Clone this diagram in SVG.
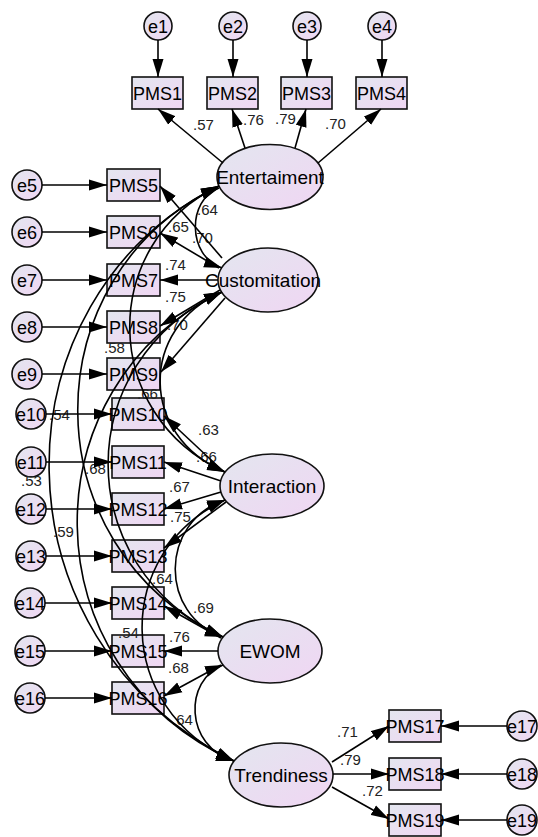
<svg xmlns="http://www.w3.org/2000/svg" width="538" height="837" viewBox="0 0 538 837">
<defs>
  <linearGradient id="fillGrad" x1="0" y1="0" x2="1" y2="1">
    <stop offset="0" stop-color="#e3e6ef"/>
    <stop offset="1" stop-color="#f0d6f3"/>
  </linearGradient>
  <marker id="head" viewBox="0 0 18 12" markerUnits="userSpaceOnUse" markerWidth="18" markerHeight="12" refX="18" refY="6" orient="auto-start-reverse">
    <path d="M0,0.5 L18,6 L0,11.5 z" fill="#000"/>
  </marker>
  <style>
    .box, .lat, .err { fill: url(#fillGrad); stroke: #111; stroke-width: 1.6; }
    .t { font-family: "Liberation Sans", Arial, sans-serif; fill: #000; text-anchor: middle; font-size: 18px; }
    .tl { font-family: "Liberation Sans", Arial, sans-serif; fill: #000; text-anchor: middle; font-size: 19px; }
    .w { font-family: "Liberation Sans", Arial, sans-serif; font-size: 15px; fill: #222; }
    .c { fill: none; stroke: #000; stroke-width: 1.6; }
    .one { marker-end: url(#head); }
    .two { marker-start: url(#head); marker-end: url(#head); }
  </style>
</defs>

<rect width="538" height="837" fill="#fff"/>

<!-- error terms -->
<g id="e1"><circle class="err" cx="158" cy="26" r="14"/><text class="t" x="158" y="32.5">e1</text></g>
<g id="e2"><circle class="err" cx="233" cy="26" r="14"/><text class="t" x="233" y="32.5">e2</text></g>
<g id="e3"><circle class="err" cx="307" cy="26" r="14"/><text class="t" x="307" y="32.5">e3</text></g>
<g id="e4"><circle class="err" cx="382" cy="26" r="14"/><text class="t" x="382" y="32.5">e4</text></g>
<g id="e5"><circle class="err" cx="27" cy="185" r="15"/><text class="t" x="27" y="191.5">e5</text></g>
<g id="e6"><circle class="err" cx="27" cy="232" r="15"/><text class="t" x="27" y="238.5">e6</text></g>
<g id="e7"><circle class="err" cx="27" cy="280" r="15"/><text class="t" x="27" y="286.5">e7</text></g>
<g id="e8"><circle class="err" cx="27" cy="327" r="15"/><text class="t" x="27" y="333.5">e8</text></g>
<g id="e9"><circle class="err" cx="27" cy="374" r="15"/><text class="t" x="27" y="380.5">e9</text></g>
<g id="e10"><circle class="err" cx="31" cy="414" r="15"/><text class="t" x="31" y="420.5">e10</text></g>
<g id="e11"><circle class="err" cx="31" cy="462" r="15"/><text class="t" x="31" y="468.5">e11</text></g>
<g id="e12"><circle class="err" cx="31" cy="509" r="15"/><text class="t" x="31" y="515.5">e12</text></g>
<g id="e13"><circle class="err" cx="31" cy="556" r="15"/><text class="t" x="31" y="562.5">e13</text></g>
<g id="e14"><circle class="err" cx="30" cy="603" r="15"/><text class="t" x="30" y="609.5">e14</text></g>
<g id="e15"><circle class="err" cx="30" cy="651" r="15"/><text class="t" x="30" y="657.5">e15</text></g>
<g id="e16"><circle class="err" cx="30" cy="698" r="15"/><text class="t" x="30" y="704.5">e16</text></g>
<g id="e17"><circle class="err" cx="522" cy="726" r="15"/><text class="t" x="522" y="732.5">e17</text></g>
<g id="e18"><circle class="err" cx="522" cy="774" r="15"/><text class="t" x="522" y="780.5">e18</text></g>
<g id="e19"><circle class="err" cx="522" cy="820" r="15"/><text class="t" x="522" y="826.5">e19</text></g>

<!-- observed indicators -->
<g id="PMS1"><rect class="box" x="132" y="77" width="51" height="32"/><text class="t" x="157.5" y="99.5">PMS1</text></g>
<g id="PMS2"><rect class="box" x="207" y="77" width="51" height="32"/><text class="t" x="232.5" y="99.5">PMS2</text></g>
<g id="PMS3"><rect class="box" x="281" y="77" width="51" height="32"/><text class="t" x="306.5" y="99.5">PMS3</text></g>
<g id="PMS4"><rect class="box" x="356" y="77" width="51" height="32"/><text class="t" x="381.5" y="99.5">PMS4</text></g>
<g id="PMS5"><rect class="box" x="107" y="169" width="53" height="32"/><text class="t" x="133.5" y="191.5">PMS5</text></g>
<g id="PMS6"><rect class="box" x="107" y="216" width="53" height="32"/><text class="t" x="133.5" y="238.5">PMS6</text></g>
<g id="PMS7"><rect class="box" x="107" y="264" width="53" height="32"/><text class="t" x="133.5" y="286.5">PMS7</text></g>
<g id="PMS8"><rect class="box" x="107" y="311" width="53" height="32"/><text class="t" x="133.5" y="333.5">PMS8</text></g>
<g id="PMS9"><rect class="box" x="107" y="358" width="53" height="32"/><text class="t" x="133.5" y="380.5">PMS9</text></g>
<g id="PMS10"><rect class="box" x="112" y="398" width="52" height="32"/><text class="t" x="138" y="420.5">PMS10</text></g>
<g id="PMS11"><rect class="box" x="112" y="446" width="52" height="32"/><text class="t" x="138" y="468.5">PMS11</text></g>
<g id="PMS12"><rect class="box" x="112" y="493" width="52" height="32"/><text class="t" x="138" y="515.5">PMS12</text></g>
<g id="PMS13"><rect class="box" x="112" y="540" width="52" height="32"/><text class="t" x="138" y="562.5">PMS13</text></g>
<g id="PMS14"><rect class="box" x="112" y="587" width="52" height="32"/><text class="t" x="138" y="609.5">PMS14</text></g>
<g id="PMS15"><rect class="box" x="112" y="635" width="52" height="32"/><text class="t" x="138" y="657.5">PMS15</text></g>
<g id="PMS16"><rect class="box" x="112" y="682" width="52" height="32"/><text class="t" x="138" y="704.5">PMS16</text></g>
<g id="PMS17"><rect class="box" x="389" y="710" width="52" height="32"/><text class="t" x="415" y="732.5">PMS17</text></g>
<g id="PMS18"><rect class="box" x="389" y="758" width="52" height="32"/><text class="t" x="415" y="780.5">PMS18</text></g>
<g id="PMS19"><rect class="box" x="389" y="804" width="52" height="32"/><text class="t" x="415" y="826.5">PMS19</text></g>

<!-- latent factors -->
<g id="Entertaiment"><ellipse class="lat" cx="270" cy="177" rx="53" ry="32.5"/><text class="tl" x="270" y="184">Entertaiment</text></g>
<g id="Customitation"><ellipse class="lat" cx="268" cy="280" rx="50" ry="32"/><text class="tl" x="263" y="287">Customitation</text></g>
<g id="Interaction"><ellipse class="lat" cx="272" cy="486" rx="52" ry="32"/><text class="tl" x="272" y="493">Interaction</text></g>
<g id="EWOM"><ellipse class="lat" cx="270" cy="651" rx="52" ry="32"/><text class="tl" x="270" y="658">EWOM</text></g>
<g id="Trendiness"><ellipse class="lat" cx="281" cy="775" rx="52" ry="32"/><text class="tl" x="281" y="782">Trendiness</text></g>

<!-- estimates -->
<g id="estimates">
  <text class="w" x="193" y="130">.57</text>
  <text class="w" x="243" y="125">.76</text>
  <text class="w" x="275" y="124">.79</text>
  <text class="w" x="325" y="129">.70</text>
  <text class="w" x="197" y="215">.64</text>
  <text class="w" x="168" y="232">.65</text>
  <text class="w" x="192" y="243">.70</text>
  <text class="w" x="165" y="270">.74</text>
  <text class="w" x="165" y="302">.75</text>
  <text class="w" x="167" y="330">.70</text>
  <text class="w" x="104" y="353">.58</text>
  <text class="w" x="137" y="399">.66</text>
  <text class="w" x="49" y="420">.54</text>
  <text class="w" x="21" y="486">.53</text>
  <text class="w" x="85" y="474">.68</text>
  <text class="w" x="53" y="537">.59</text>
  <text class="w" x="118" y="638">.54</text>
  <text class="w" x="152" y="584">.64</text>
  <text class="w" x="198" y="435">.63</text>
  <text class="w" x="196" y="462">.66</text>
  <text class="w" x="169" y="492">.67</text>
  <text class="w" x="170" y="522">.75</text>
  <text class="w" x="193" y="613">.69</text>
  <text class="w" x="169" y="642">.76</text>
  <text class="w" x="168" y="673">.68</text>
  <text class="w" x="172" y="725">.64</text>
  <text class="w" x="337" y="737">.71</text>
  <text class="w" x="340" y="765">.79</text>
  <text class="w" x="362" y="796">.72</text>
</g>

<!-- paths: error arrows, loadings, covariances -->
<g id="connectors">
  <path class="c one" d="M158,40 L158,77"/>
  <path class="c one" d="M233,40 L233,77"/>
  <path class="c one" d="M307,40 L307,77"/>
  <path class="c one" d="M382,40 L382,77"/>
  <path class="c one" d="M42,185 L107,185"/>
  <path class="c one" d="M42,232 L107,232"/>
  <path class="c one" d="M42,280 L107,280"/>
  <path class="c one" d="M42,327 L107,327"/>
  <path class="c one" d="M42,374 L107,374"/>
  <path class="c one" d="M46,414 L112,414"/>
  <path class="c one" d="M46,462 L112,462"/>
  <path class="c one" d="M46,509 L112,509"/>
  <path class="c one" d="M46,556 L112,556"/>
  <path class="c one" d="M45,603 L112,603"/>
  <path class="c one" d="M45,651 L112,651"/>
  <path class="c one" d="M45,698 L112,698"/>
  <path class="c one" d="M507,726 L441,726"/>
  <path class="c one" d="M507,774 L441,774"/>
  <path class="c one" d="M507,820 L441,820"/>

  <path class="c one" d="M223,163 L158,109"/>
  <path class="c one" d="M245,148 L232,109"/>
  <path class="c one" d="M295,148 L306,109"/>
  <path class="c one" d="M318,163 L381,109"/>
  <path class="c one" d="M222,258 L160,186"/>
  <path class="c one" d="M219,268 L160,233"/>
  <path class="c one" d="M218,280 L160,280"/>
  <path class="c one" d="M220,290 L160,326"/>
  <path class="c one" d="M225,298 L161,372"/>
  <path class="c one" d="M224,472 L164,416"/>
  <path class="c one" d="M221,481 L164,462"/>
  <path class="c one" d="M221,492 L164,509"/>
  <path class="c one" d="M226,502 L164,548"/>
  <path class="c one" d="M221,638 L164,606"/>
  <path class="c one" d="M218,651 L164,651"/>
  <path class="c one" d="M221,665 L164,696"/>
  <path class="c one" d="M332,762 L389,726"/>
  <path class="c one" d="M333,774 L389,774"/>
  <path class="c one" d="M332,787 L389,819"/>

  <path class="c two" d="M219,188 C187,200 187,256 222,268"/>
  <path class="c two" d="M219,186 C99,243 99,415 225,472"/>
  <path class="c two" d="M219,186 C30,276 30,547 223,637"/>
  <path class="c two" d="M219,186 C-10,300 -10,640 234,761"/>
  <path class="c two" d="M222,292 C139,328 139,436 225,472"/>
  <path class="c two" d="M222,292 C70,362 70,567 223,637"/>
  <path class="c two" d="M222,292 C27,386 27,667 234,761"/>
  <path class="c two" d="M225,500 C159,522 159,615 223,637"/>
  <path class="c two" d="M225,500 C113,552 113,709 234,761"/>
  <path class="c two" d="M223,665 C184,680 184,746 234,761"/>
</g>
</svg>
